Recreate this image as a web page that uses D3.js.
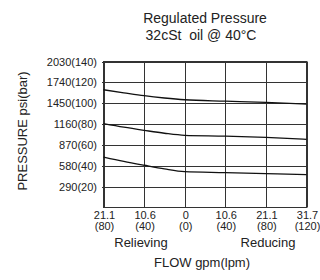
<!DOCTYPE html>
<html>
<head>
<meta charset="utf-8">
<script src="https://d3js.org/d3.v7.min.js"></script>
<style>
  body { margin: 0; background: #fff; }
  text { font-family: Arial, "Liberation Sans", sans-serif; fill: #222; }
</style>
</head>
<body>
<svg id="chart" width="320" height="280"></svg>
<script>
// flow in lpm (negative = relieving side), pressure in bar
var flowLpm = [-80, -60, -40, -20, 0, 40, 80, 120];
var highSet = [112.9, 110.0, 107.2, 105.0, 103.3, 102.0, 100.8, 99.1];
var midSet  = [80.4, 77.0, 74.0, 71.2, 69.2, 68.5, 67.3, 65.4];
var lowSet  = [48.4, 44.2, 40.5, 37.0, 34.4, 33.5, 32.5, 31.6];

var xTicks = [-80, -40, 0, 40, 80, 120];
var xTopLabels = ["21.1", "10.6", "0", "10.6", "21.1", "31.7"];
var xBotLabels = ["(80)", "(40)", "(0)", "(40)", "(80)", "(120)"];
var yTicks = [20, 40, 60, 80, 100, 120, 140];
var yLabels = ["290(20)", "580(40)", "870(60)", "1160(80)", "1450(100)", "1740(120)", "2030(140)"];

var svg = d3.select("#chart");
var x = d3.scaleLinear().domain([-80, 120]).range([103.5, 306.5]);
var y = d3.scaleLinear().domain([0, 140]).range([207.5, 61.5]);

// grid
svg.append("g").selectAll("line").data(yTicks).enter().append("line")
  .attr("x1", x(-80) - 1.5).attr("x2", x(120))
  .attr("y1", function(d) { return Math.round(y(d)) + 0.5; })
  .attr("y2", function(d) { return Math.round(y(d)) + 0.5; })
  .attr("stroke", "#333").attr("stroke-width", 1);

svg.append("g").selectAll("line").data(xTicks).enter().append("line")
  .attr("x1", function(d) { return Math.round(x(d)) + 0.5; })
  .attr("x2", function(d) { return Math.round(x(d)) + 0.5; })
  .attr("y1", y(140)).attr("y2", y(0))
  .attr("stroke", "#333").attr("stroke-width", 1);

svg.append("rect")
  .attr("x", x(-80)).attr("y", y(140))
  .attr("width", x(120) - x(-80)).attr("height", y(0) - y(140))
  .attr("fill", "none").attr("stroke", "#333").attr("stroke-width", 1);

// curves
var line = d3.line()
  .x(function(d, i) { return x(flowLpm[i]); })
  .y(function(d) { return y(d); })
  .curve(d3.curveMonotoneX);

[highSet, midSet, lowSet].forEach(function(s) {
  svg.append("path").attr("d", line(s))
    .attr("fill", "none").attr("stroke", "#111").attr("stroke-width", 1.3);
});

// y labels
svg.append("g").selectAll("text").data(yTicks).enter().append("text")
  .attr("x", 97).attr("y", function(d) { return y(d) + 4; })
  .attr("text-anchor", "end").style("font-size", "11px")
  .text(function(d, i) { return yLabels[i]; });

// x labels
svg.append("g").selectAll("text").data(xTicks).enter().append("text")
  .attr("x", function(d) { return x(d) + 1; }).attr("y", 219)
  .attr("text-anchor", "middle").style("font-size", "11px")
  .text(function(d, i) { return xTopLabels[i]; });
svg.append("g").selectAll("text").data(xTicks).enter().append("text")
  .attr("x", function(d) { return x(d) + 1; }).attr("y", 230)
  .attr("text-anchor", "middle").style("font-size", "11px")
  .text(function(d, i) { return xBotLabels[i]; });

// titles
svg.append("text").attr("x", 205).attr("y", 23).attr("text-anchor", "middle")
  .style("font-size", "14px").text("Regulated Pressure");
svg.append("text").attr("x", 201).attr("y", 40).attr("text-anchor", "middle")
  .style("font-size", "14px").style("white-space", "pre").text("32cSt  oil @ 40°C");

svg.append("text").attr("x", 141).attr("y", 247).attr("text-anchor", "middle")
  .style("font-size", "13px").text("Relieving");
svg.append("text").attr("x", 268).attr("y", 247).attr("text-anchor", "middle")
  .style("font-size", "13px").text("Reducing");
svg.append("text").attr("x", 202).attr("y", 267).attr("text-anchor", "middle")
  .style("font-size", "13px").text("FLOW gpm(lpm)");

svg.append("text").attr("transform", "translate(27,131) rotate(-90)")
  .attr("text-anchor", "middle").style("font-size", "13px").text("PRESSURE psi(bar)");
</script>
</body>
</html>
